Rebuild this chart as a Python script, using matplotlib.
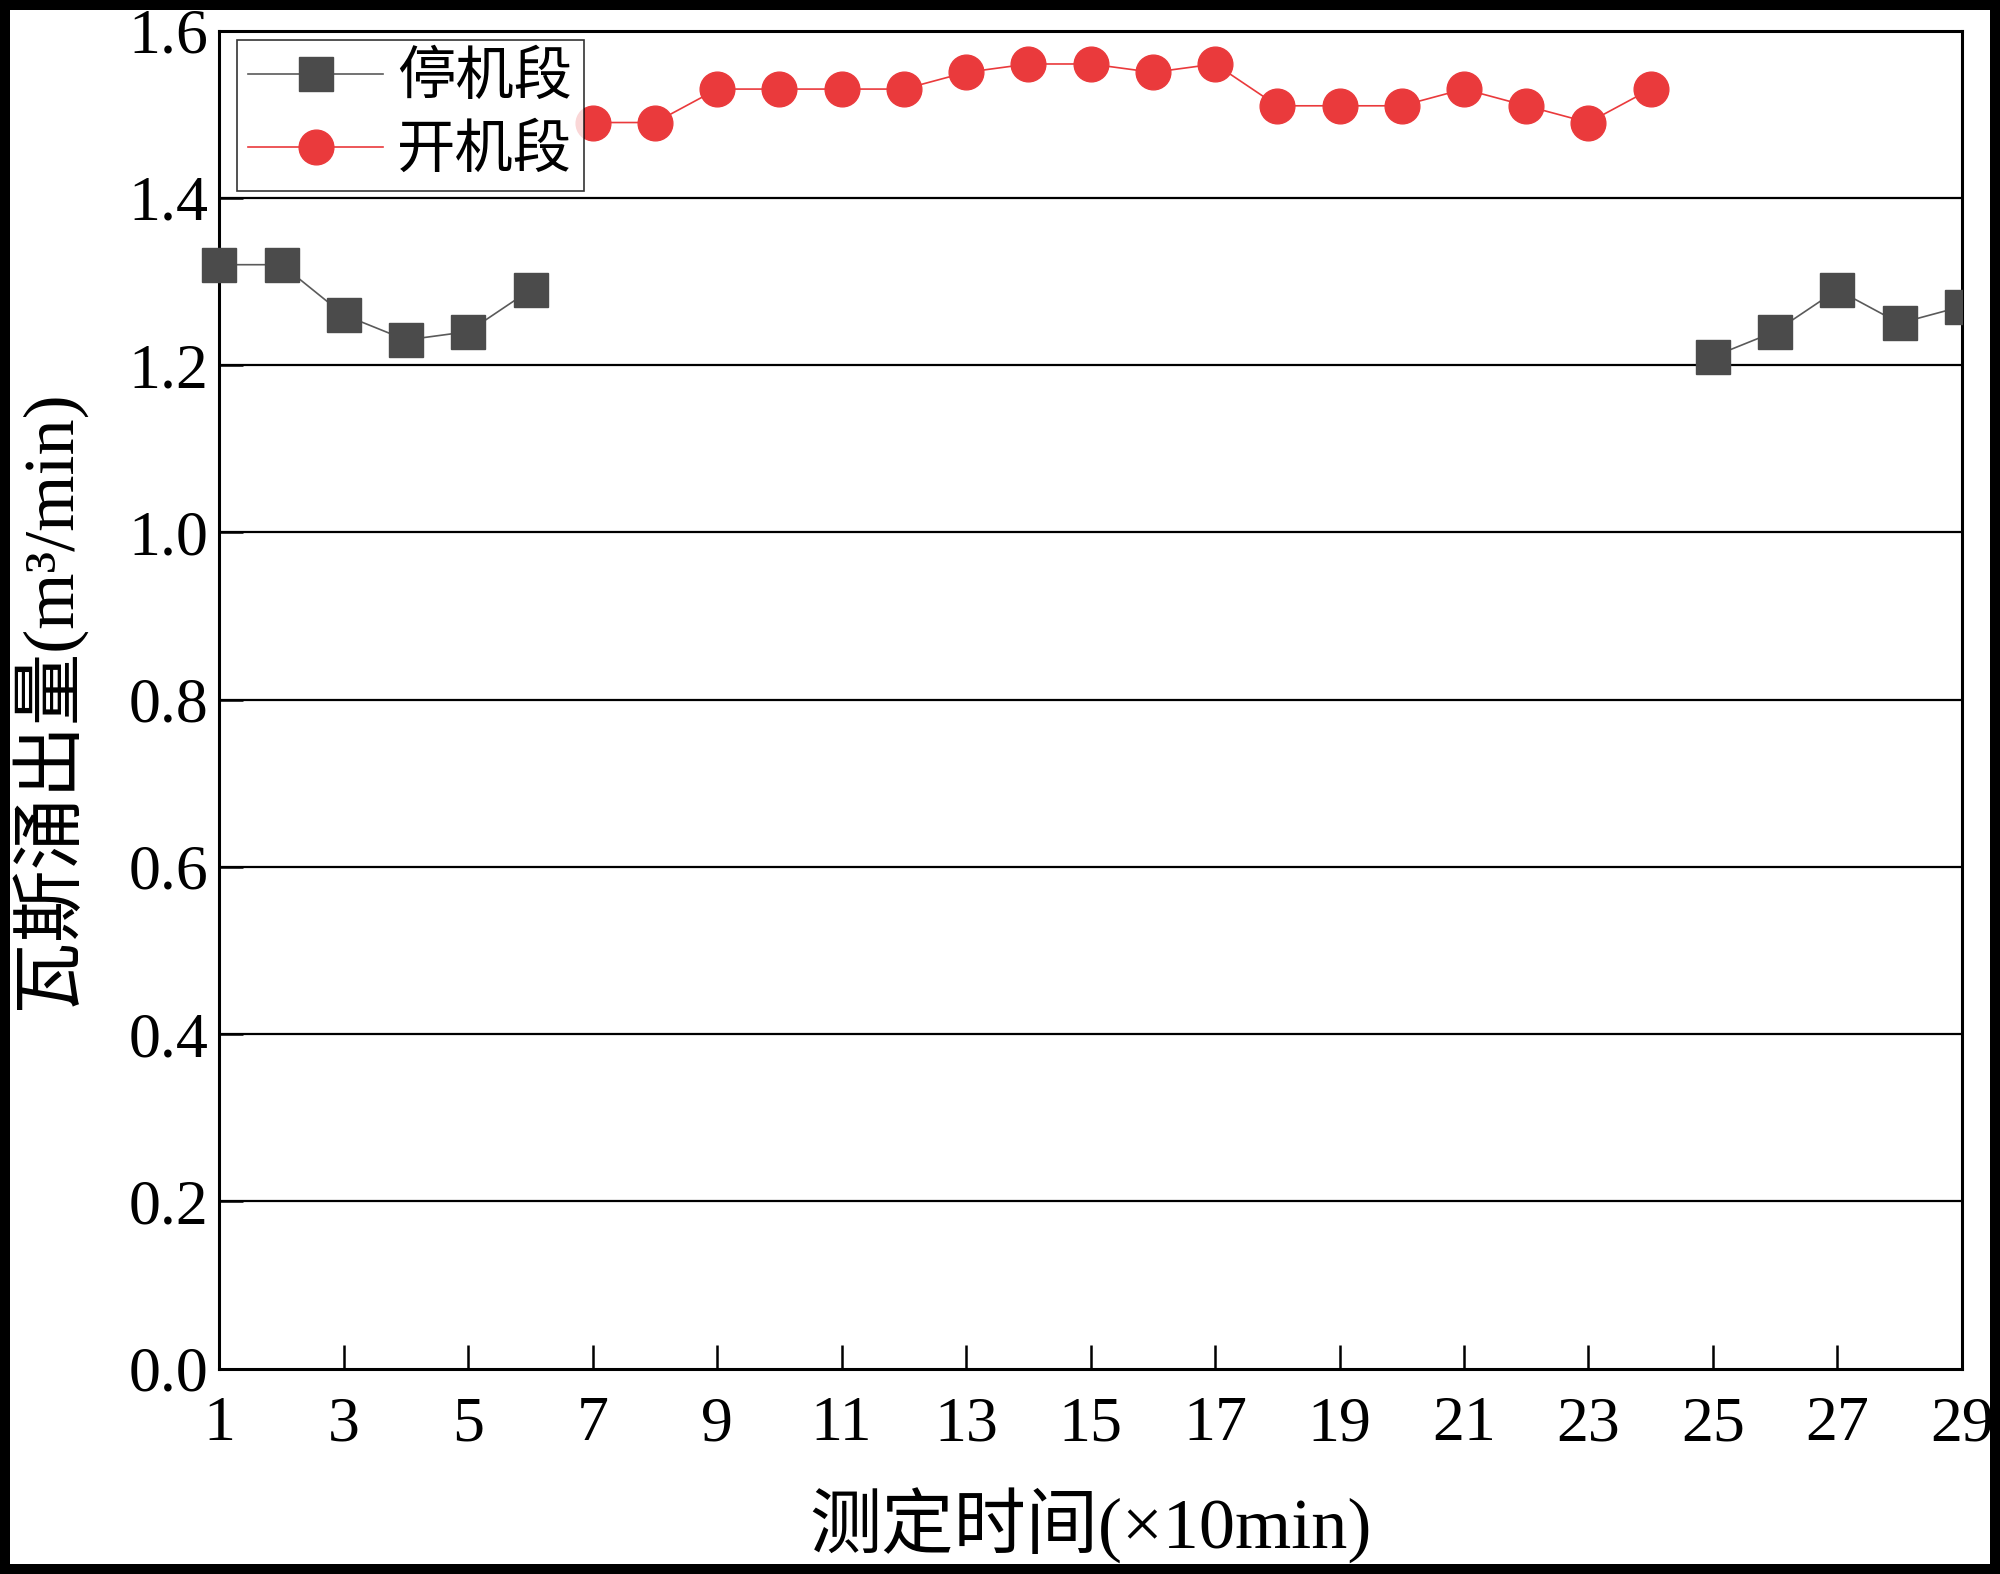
import numpy as np
import matplotlib
matplotlib.use('Agg')
import matplotlib.pyplot as plt
from matplotlib.patches import Rectangle

plt.rcParams['font.family'] = ['Liberation Serif', 'Noto Sans CJK SC']
plt.rcParams['axes.unicode_minus'] = False

# 停机段 (two pieces: before and after the running period)
x_stop_a = [1, 2, 3, 4, 5, 6]
y_stop_a = [1.32, 1.32, 1.26, 1.23, 1.24, 1.29]
x_stop_b = [25, 26, 27, 28, 29]
y_stop_b = [1.21, 1.24, 1.29, 1.25, 1.27]

# 开机段
x_run = list(range(7, 25))
y_run = [1.49, 1.49, 1.53, 1.53, 1.53, 1.53, 1.55, 1.56, 1.56,
         1.55, 1.56, 1.51, 1.51, 1.51, 1.53, 1.51, 1.49, 1.53]

x_ticks = list(range(1, 30, 2))
y_ticks = [0.0, 0.2, 0.4, 0.6, 0.8, 1.0, 1.2, 1.4, 1.6]

fig = plt.figure(figsize=(20, 15.74), dpi=100)
ax = fig.add_axes([0.1097, 0.1305, 0.8712, 0.8501])

for yt in y_ticks[1:-1]:
    ax.axhline(yt, color='black', lw=1.6, zorder=1)

gray = '#4b4b4b'
red = '#ea3a3c'
ax.plot(x_stop_a, y_stop_a, color='#5a5a5a', lw=1.2, marker='s', ms=24,
        mfc=gray, mec=gray, label='停机段', zorder=3, clip_on=False)
ax.plot(x_stop_b, y_stop_b, color='#5a5a5a', lw=1.2, marker='s', ms=24,
        mfc=gray, mec=gray, zorder=3, clip_on=True)
ax.plot(x_run, y_run, color=red, lw=1.2, marker='o', ms=25,
        mfc=red, mec=red, label='开机段', zorder=3)

ax.set_xlim(1, 29)
ax.set_ylim(0, 1.6)
ax.set_xticks(x_ticks)
ax.set_yticks(y_ticks)
ax.set_yticklabels(['%.1f' % v for v in y_ticks])
ax.tick_params(axis='both', direction='in', length=17, width=1.8,
               labelsize=46, colors='black')
ax.tick_params(axis='x', pad=20)
ax.tick_params(axis='y', pad=8)
for s in ax.spines.values():
    s.set_linewidth(2.2)

ax.set_xlabel('测定时间(×10min)', fontsize=52, labelpad=24)
ax.set_ylabel('瓦斯涌出量(m³/min)', fontsize=52, labelpad=32)

leg = ax.legend(loc='upper left', bbox_to_anchor=(0.010, 0.993), fontsize=42,
                frameon=True, fancybox=False, edgecolor='black',
                handlelength=2.3, handletextpad=0.25, labelspacing=0.32,
                borderpad=0.2, borderaxespad=0.0)
leg.get_frame().set_linewidth(1.2)
leg.set_zorder(5)

fig.add_artist(Rectangle((0, 0), 1, 1, transform=fig.transFigure, fill=False,
                         lw=14.4, ec='black'))

fig.savefig('out.png', dpi=100)
